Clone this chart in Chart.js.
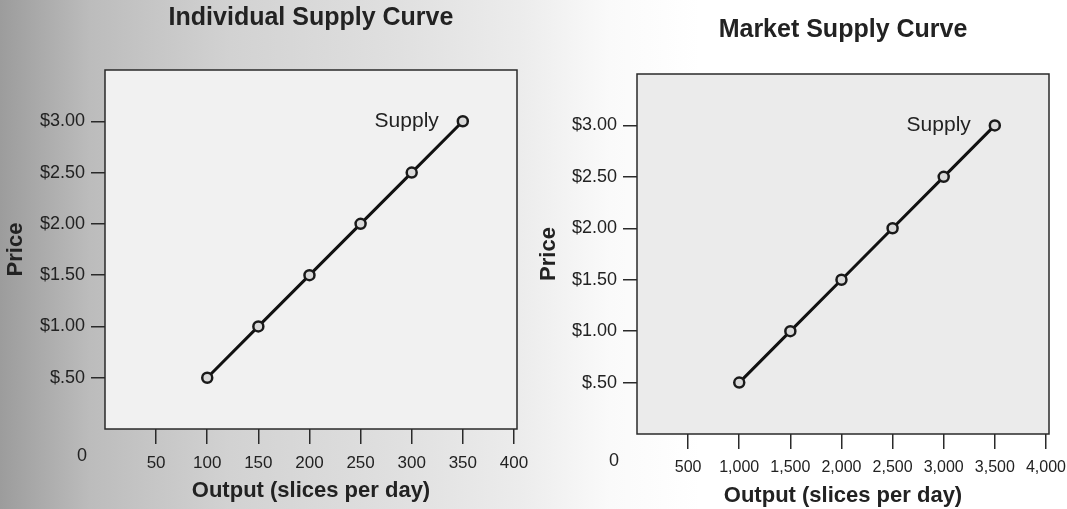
<!DOCTYPE html>
<html>
<head>
<meta charset="utf-8">
<script src="https://cdn.jsdelivr.net/npm/chart.js@4.4.1/dist/chart.umd.min.js"></script>
<style>
  html, body { margin: 0; padding: 0; }
  body {
    width: 1067px; height: 509px; position: relative; overflow: hidden;
    background: linear-gradient(to right, #9c9c9c 0px, #bcbcbc 90px, #d2d2d2 230px, #e0e0e0 400px, #ececec 520px, #fafafa 610px, #ffffff 700px);
  }
  canvas { position: absolute; top: 0; }
  #individual { left: 0; }
  #market { left: 533px; }
</style>
</head>
<body>
<canvas id="individual" width="533" height="509"></canvas>
<canvas id="market" width="534" height="509"></canvas>
<script>
// supply schedule
const prices = [0.5, 1, 1.5, 2, 2.5, 3];
const priceLabels = ['$.50', '$1.00', '$1.50', '$2.00', '$2.50', '$3.00'];

const individualOutput = [100, 150, 200, 250, 300, 350];
const individualTicks = [50, 100, 150, 200, 250, 300, 350, 400];
const individualTickLabels = ['50', '100', '150', '200', '250', '300', '350', '400'];

const marketOutput = [1000, 1500, 2000, 2500, 3000, 3500];
const marketTicks = [500, 1000, 1500, 2000, 2500, 3000, 3500, 4000];
const marketTickLabels = ['500', '1,000', '1,500', '2,000', '2,500', '3,000', '3,500', '4,000'];

Chart.defaults.font.family = "'Liberation Sans', Arial, sans-serif";
Chart.defaults.color = '#222';

// plot box, the "0" at the origin and the "Supply" tag
const boxPlugin = {
  id: 'box',
  beforeDraw(chart, args, opts) {
    const { ctx, chartArea: a } = chart;
    ctx.save();
    ctx.fillStyle = opts.fill;
    ctx.fillRect(a.left, a.top, a.right - a.left, a.bottom - a.top);
    ctx.strokeStyle = '#2a2a2a';
    ctx.lineWidth = 1.5;
    ctx.strokeRect(a.left, a.top, a.right - a.left, a.bottom - a.top);
    ctx.restore();
  },
  afterDatasetsDraw(chart) {
    const { ctx, chartArea: a } = chart;
    const pts = chart.getDatasetMeta(0).data;
    const last = pts[pts.length - 1];
    ctx.save();
    ctx.fillStyle = '#222';
    ctx.font = "21px 'Liberation Sans', Arial, sans-serif";
    ctx.textAlign = 'right';
    ctx.textBaseline = 'middle';
    ctx.fillText('Supply', last.x - 24, last.y);
    ctx.font = "18px 'Liberation Sans', Arial, sans-serif";
    ctx.textAlign = 'center';
    ctx.fillText('0', a.left - 23, a.bottom + 27);
    ctx.restore();
  }
};

function makeChart(id, output, xTicks, xTickLabels, xMax, title, s) {
  new Chart(document.getElementById(id), {
    type: 'scatter',
    data: {
      datasets: [{
        data: output.map((x, i) => ({ x: x, y: prices[i] })),
        showLine: true,
        borderColor: '#111',
        borderWidth: 3,
        pointRadius: 5,
        pointBackgroundColor: '#dadada',
        pointBorderColor: '#1a1a1a',
        pointBorderWidth: 2.5
      }]
    },
    options: {
      responsive: false,
      animation: false,
      layout: { padding: { left: 0, right: s.padRight, top: 0, bottom: 0 } },
      plugins: {
        legend: { display: false },
        tooltip: { enabled: false },
        title: {
          display: true,
          text: title,
          fullSize: false,
          color: '#222',
          font: { size: 25, weight: 'bold' },
          padding: { top: s.titleTop, bottom: s.titleBottom }
        },
        box: { fill: s.plotFill }
      },
      scales: {
        x: {
          type: 'linear',
          min: 0,
          max: xMax,
          afterBuildTicks: sc => { sc.ticks = xTicks.map(v => ({ value: v })); },
          afterFit: sc => { sc.height = s.xHeight; sc.paddingLeft = 0; sc.paddingRight = 0; },
          grid: { drawOnChartArea: false, tickLength: 15, color: '#2a2a2a', lineWidth: 1.5 },
          border: { display: false },
          ticks: {
            autoSkip: false,
            maxRotation: 0,
            padding: 9,
            color: '#222',
            font: { size: s.xFont },
            callback: (v, i) => xTickLabels[i]
          },
          title: {
            display: true,
            text: 'Output (slices per day)',
            color: '#222',
            font: { size: 22, weight: 'bold' },
            padding: { top: 0, bottom: s.xTitleBottom }
          }
        },
        y: {
          min: 0,
          max: 3.5,
          afterBuildTicks: sc => { sc.ticks = prices.map(v => ({ value: v })); },
          afterFit: sc => { sc.width = s.yWidth; sc.paddingTop = 0; sc.paddingBottom = 0; },
          grid: { drawOnChartArea: false, tickLength: 14, color: '#2a2a2a', lineWidth: 1.5 },
          border: { display: false },
          ticks: {
            padding: 6,
            color: '#222',
            font: { size: 18 },
            callback: (v, i) => priceLabels[i]
          },
          title: {
            display: true,
            text: 'Price',
            color: '#222',
            font: { size: 22, weight: 'bold' },
            padding: { top: 3, bottom: 0 }
          }
        }
      }
    },
    plugins: [boxPlugin]
  });
}

makeChart('individual', individualOutput, individualTicks, individualTickLabels, 403, 'Individual Supply Curve', {
  padRight: 16, yWidth: 105, xHeight: 80, titleTop: 3, titleBottom: 37,
  xTitleBottom: 5, xFont: 17, plotFill: '#f1f1f1'
});

makeChart('market', marketOutput, marketTicks, marketTickLabels, 4030, 'Market Supply Curve', {
  padRight: 18, yWidth: 104, xHeight: 75, titleTop: 15, titleBottom: 29,
  xTitleBottom: 0, xFont: 16, plotFill: '#ebebeb'
});
</script>
</body>
</html>
